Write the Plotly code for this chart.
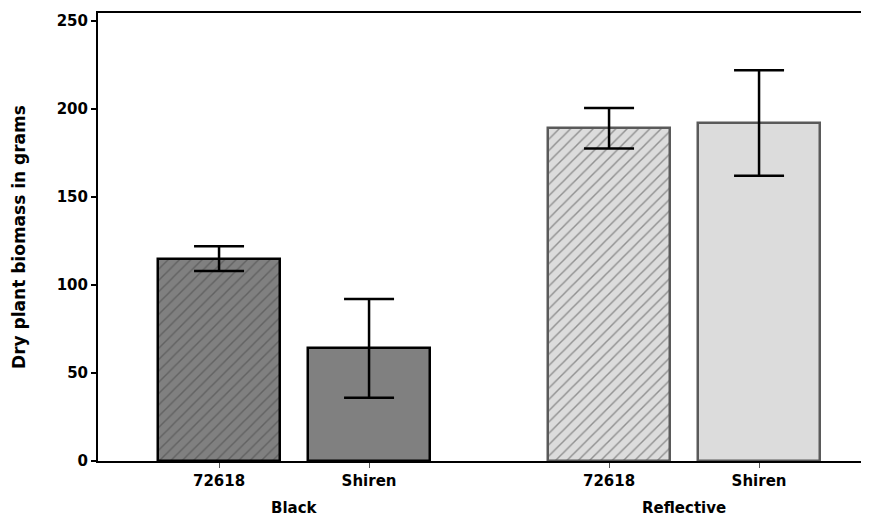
import plotly.graph_objects as go

# Data
groups = ["Black", "Black", "Reflective", "Reflective"]
varieties = ["72618", "Shiren", "72618", "Shiren"]
biomass = [115, 64, 189, 192]
errors = [7, 28, 11.5, 30]
positions = [0, 1, 2.6, 3.6]
group_labels = ["Black", "Reflective"]
group_centers = [0.5, 3.1]

fills = ["#808080", "#808080", "#dcdcdc", "#dcdcdc"]
hatch = ["/", "", "/", ""]
hatch_fg = ["#111111", "#111111", "#555555", "#555555"]
outline = ["#000000", "#000000", "#5a5a5a", "#5a5a5a"]

FONT = "DejaVu Sans"

fig = go.Figure()
fig.add_trace(go.Bar(
    x=positions, y=biomass, width=0.81,
    marker=dict(
        color=fills,
        line=dict(color=outline, width=2.5),
        pattern=dict(shape=hatch, fgcolor=hatch_fg, bgcolor=fills, size=8, solidity=0.18),
    ),
    error_y=dict(type="data", array=errors, visible=True, color="#000000", thickness=2.5, width=25),
    showlegend=False,
))

for lab, xc in zip(group_labels, group_centers):
    fig.add_annotation(x=xc, xref="x", y=-0.105, yref="paper", text=lab, showarrow=False,
                       yanchor="middle", font=dict(family=FONT, size=15, color="#000", weight="bold"))

# the page body adds an 8px offset; the figure is sized so it ends at the window edge
fig.update_layout(
    width=861, height=508,
    margin=dict(l=90, r=0, t=5, b=55),
    plot_bgcolor="white", paper_bgcolor="white",
    font=dict(family=FONT, size=15, color="#000"),
    bargap=0,
)
fig.update_xaxes(
    range=[-0.807, 4.333], tickmode="array", tickvals=positions, ticktext=varieties,
    showline=True, linecolor="#000", linewidth=1.5, mirror=True,
    ticks="outside", ticklen=5, tickwidth=1, tickcolor="#555",
    tickfont=dict(family=FONT, size=15, color="#000", weight="bold"),
    showgrid=False, zeroline=False,
)
fig.update_yaxes(
    range=[0, 254.5], tickvals=[0, 50, 100, 150, 200, 250],
    showline=True, linecolor="#000", linewidth=2,
    ticks="outside", ticklen=5, tickwidth=1.5, tickcolor="#000",
    tickfont=dict(family=FONT, size=15, color="#000", weight="bold"),
    showgrid=False, zeroline=False,
    title=dict(text="Dry plant biomass in grams", standoff=27,
               font=dict(family=FONT, size=17, color="#000", weight="bold")),
)

fig.write_html("out.html")
